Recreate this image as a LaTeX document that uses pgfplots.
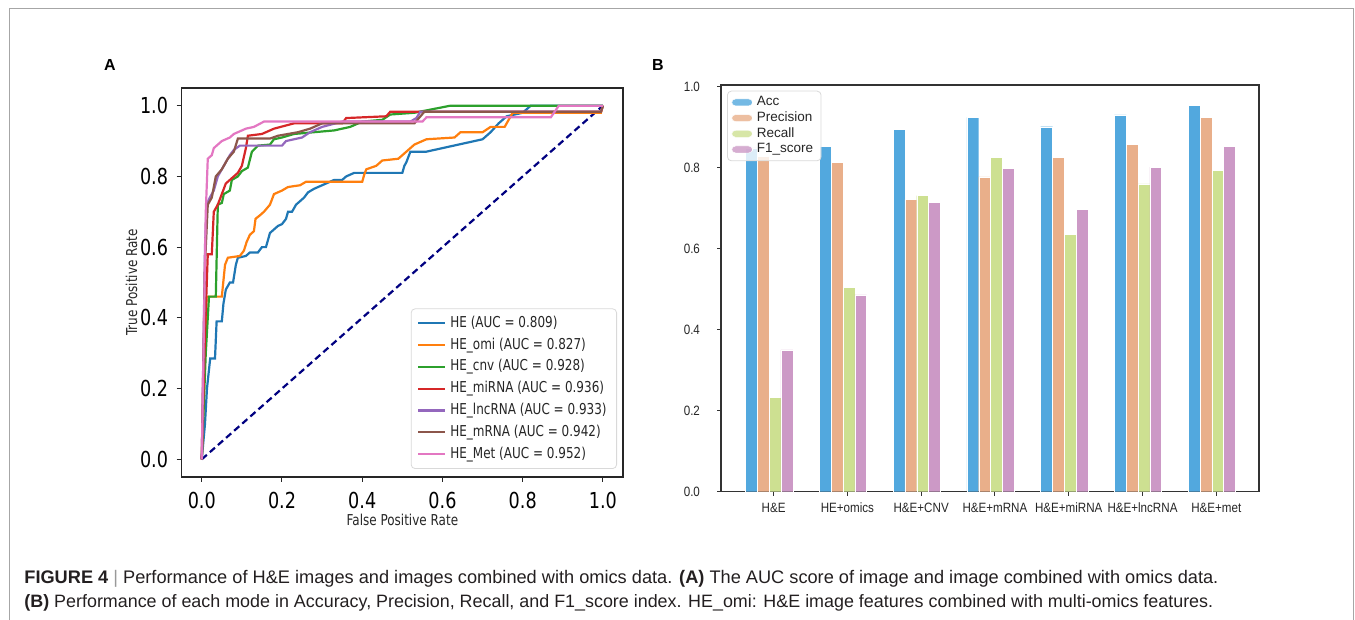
\documentclass[border=0pt]{standalone}
\usepackage{pgfplots}
\pgfplotsset{compat=1.18}
\usepackage{fontspec}
\setmainfont{Liberation Sans}
\newfontfamily\dejavu[FakeStretch=0.8]{DejaVu Sans}
\newfontfamily\arialn[FakeStretch=0.86]{Liberation Sans}

\definecolor{c0}{HTML}{1F77B4}
\definecolor{c1}{HTML}{FF7F0E}
\definecolor{c2}{HTML}{2CA02C}
\definecolor{c3}{HTML}{D62728}
\definecolor{c4}{HTML}{9467BD}
\definecolor{c5}{HTML}{8C564B}
\definecolor{c6}{HTML}{E377C2}
\definecolor{navy}{RGB}{0,0,128}
\definecolor{acccol}{RGB}{82,168,222}
\definecolor{preccol}{RGB}{233,175,138}
\definecolor{reccol}{RGB}{205,224,145}
\definecolor{f1col}{RGB}{204,153,198}
\definecolor{captext}{HTML}{231F20}

\begin{document}
\begin{tikzpicture}
\useasboundingbox (0,0) rectangle (677.5pt,-310pt);
\draw[black!35, line width=0.5pt] (4.65pt,-310pt) -- (4.65pt,-4.15pt) -- (676.75pt,-4.15pt) -- (676.75pt,-310pt);

\node[font=\bfseries\fontsize{8}{9.6}\selectfont] at (55pt,-32.5pt) {A};
\node[font=\bfseries\fontsize{8}{9.6}\selectfont] at (329pt,-32.5pt) {B};

% panel A: ROC curves
\begin{axis}[
    at={(90.85pt,-44pt)}, anchor=north west,
    width=220.65pt, height=194.5pt, scale only axis,
    xmin=-0.05, xmax=1.05, ymin=-0.05, ymax=1.05,
    xtick={0,0.2,0.4,0.6,0.8,1.0},
    ytick={0,0.2,0.4,0.6,0.8,1.0},
    tick pos=left, tick align=outside, major tick length=2.5pt,
    axis line style={black!85, line width=0.6pt},
    tick style={black!85, line width=0.5pt},
    ticklabel style={font=\dejavu\fontsize{11}{13}\selectfont},
    xticklabel style={yshift=-1.5pt},
    yticklabel style={xshift=-0.8pt},
    /pgf/number format/.cd, fixed, fixed zerofill, precision=1, assume math mode=true,
    /pgfplots/.cd,
    xlabel={False Positive Rate}, ylabel={True Positive Rate},
    label style={font=\dejavu\fontsize{7.5}{9}\selectfont, text=black!85},
    x label style={at={(axis description cs:0.5,-0.1105)}, anchor=center},
    y label style={at={(axis description cs:-0.1134,0.5)}, anchor=center},
    legend image code/.code={\draw[#1] (0pt,0pt) -- (13.5pt,0pt);},
    legend cell align=left,
    legend style={at={(1,0)}, anchor=south east, xshift=-3pt, yshift=4pt,
        font=\dejavu\fontsize{7.5}{9}\selectfont, text=black!85,
        draw=black!15, rounded corners=2pt, fill=white, fill opacity=0.8, text opacity=1,
        nodes={inner ysep=0.5pt, text height=5.8pt, text depth=1.7pt},
        row sep=2.4pt, inner xsep=3pt, inner ysep=3pt},
    every axis plot/.append style={line width=1.1pt},
]
\addplot[navy, dash pattern=on 3.4pt off 2pt, line width=1.1pt, forget plot] coordinates {(0,0) (1,1)};
\addplot[c0, sharp plot] coordinates {
(0,0) (0.008,0.10) (0.013,0.20) (0.021,0.285) (0.033,0.285) (0.037,0.39) (0.05,0.39)
(0.054,0.44) (0.06,0.48) (0.07,0.50) (0.078,0.50) (0.085,0.55) (0.09,0.57) (0.11,0.575)
(0.12,0.585) (0.14,0.585) (0.15,0.60) (0.16,0.60) (0.165,0.62) (0.17,0.64) (0.18,0.65)
(0.19,0.66) (0.20,0.665) (0.21,0.68) (0.215,0.70) (0.225,0.70) (0.235,0.72) (0.245,0.73)
(0.255,0.74) (0.265,0.755) (0.28,0.765) (0.29,0.77) (0.31,0.78) (0.33,0.79) (0.35,0.79)
(0.36,0.80) (0.38,0.81) (0.50,0.81) (0.505,0.83) (0.51,0.84) (0.52,0.87) (0.56,0.87)
(0.60,0.88) (0.64,0.89) (0.70,0.905) (0.72,0.925) (0.74,0.95) (0.76,0.97) (0.80,0.98)
(0.82,1.0) (1.0,1.0)};
\addlegendentry{HE (AUC = 0.809)}
\addplot[c1, sharp plot] coordinates {
(0,0) (0.005,0.2) (0.012,0.46) (0.05,0.46) (0.058,0.55) (0.065,0.57) (0.095,0.575)
(0.105,0.59) (0.112,0.615) (0.12,0.635) (0.13,0.645) (0.134,0.68) (0.145,0.69) (0.155,0.70)
(0.17,0.72) (0.18,0.75) (0.20,0.76) (0.215,0.77) (0.245,0.775) (0.26,0.785) (0.40,0.785)
(0.405,0.805) (0.41,0.82) (0.435,0.83) (0.45,0.845) (0.49,0.85) (0.52,0.88) (0.53,0.89)
(0.56,0.905) (0.63,0.91) (0.645,0.925) (0.70,0.925) (0.72,0.94) (0.755,0.94) (0.775,0.98)
(0.995,0.98) (1.0,1.0)};
\addlegendentry{HE\_omi (AUC = 0.827)}
\addplot[c2, sharp plot] coordinates {
(0,0) (0.01,0.30) (0.018,0.46) (0.035,0.46) (0.04,0.72) (0.05,0.725) (0.055,0.75)
(0.07,0.76) (0.075,0.79) (0.09,0.80) (0.10,0.815) (0.115,0.825) (0.125,0.87) (0.14,0.887)
(0.17,0.89) (0.18,0.905) (0.20,0.91) (0.23,0.92) (0.33,0.93) (0.37,0.94) (0.40,0.955)
(0.45,0.96) (0.47,0.975) (0.53,0.98) (0.62,1.0) (1.0,1.0)};
\addlegendentry{HE\_cnv (AUC = 0.928)}
\addplot[c3, sharp plot] coordinates {
(0,0) (0.008,0.35) (0.015,0.58) (0.025,0.58) (0.03,0.70) (0.04,0.72) (0.05,0.75)
(0.06,0.78) (0.07,0.79) (0.08,0.80) (0.09,0.81) (0.10,0.83) (0.11,0.88) (0.115,0.915)
(0.15,0.92) (0.18,0.935) (0.23,0.95) (0.35,0.95) (0.36,0.965) (0.46,0.97) (0.47,0.983)
(0.995,0.983) (1.0,1.0)};
\addlegendentry{HE\_miRNA (AUC = 0.936)}
\addplot[c4, sharp plot] coordinates {
(0,0) (0.008,0.60) (0.012,0.72) (0.02,0.74) (0.03,0.76) (0.04,0.80) (0.05,0.82)
(0.06,0.84) (0.07,0.86) (0.08,0.875) (0.095,0.887) (0.20,0.887) (0.21,0.90) (0.25,0.91)
(0.27,0.925) (0.30,0.94) (0.35,0.955) (0.52,0.955) (0.535,0.965) (0.545,0.983)
(0.995,0.983) (1.0,1.0)};
\addlegendentry{HE\_lncRNA (AUC = 0.933)}
\addplot[c5, sharp plot] coordinates {
(0,0) (0.008,0.55) (0.015,0.72) (0.025,0.74) (0.035,0.80) (0.05,0.82) (0.065,0.85)
(0.08,0.87) (0.09,0.907) (0.17,0.907) (0.19,0.915) (0.24,0.925) (0.27,0.935) (0.30,0.95)
(0.53,0.95) (0.555,0.983) (0.995,0.983) (1.0,1.0)};
\addlegendentry{HE\_mRNA (AUC = 0.942)}
\addplot[c6, sharp plot] coordinates {
(0,0) (0.01,0.70) (0.015,0.85) (0.025,0.86) (0.03,0.88) (0.04,0.89) (0.05,0.90)
(0.07,0.91) (0.08,0.92) (0.11,0.935) (0.13,0.94) (0.155,0.955) (0.55,0.955) (0.56,0.967)
(0.87,0.967) (0.89,1.0) (1.0,1.0)};
\addlegendentry{HE\_Met (AUC = 0.952)}
\end{axis}

% panel B: bar chart
\begin{axis}[
    at={(360.5pt,-42.5pt)}, anchor=north west,
    width=269pt, height=203.35pt, scale only axis,
    xmin=-0.713, xmax=6.579, ymin=0, ymax=1.004,
    xtick={0,1,2,3,4,5,6},
    xticklabels={H\&E,HE+omics,H\&E+CNV,H\&E+mRNA,H\&E+miRNA,H\&E+lncRNA,H\&E+met},
    ytick={0,0.2,0.4,0.6,0.8,1.0},
    tick pos=left, tick align=outside, major tick length=2pt,
    axis line style={black!80, line width=0.6pt},
    tick style={black!80, line width=0.5pt},
    ticklabel style={font=\arialn\fontsize{6.75}{8}\selectfont, text=black!85},
    xticklabel style={yshift=0pt},
    yticklabel style={xshift=-5pt},
    /pgf/number format/.cd, fixed, fixed zerofill, precision=1, assume math mode=true,
    /pgfplots/.cd,
    legend image code/.code={\fill[#1] (0pt,-1.75pt) rectangle (10.5pt,1.75pt);},
    legend cell align=left,
    legend style={at={(0,1)}, anchor=north west, xshift=3pt, yshift=-2.85pt,
        font=\fontsize{6.75}{8}\selectfont, text=black!85,
        draw=black!15, rounded corners=2pt, fill=white, fill opacity=0.8, text opacity=1,
        nodes={inner ysep=0.4pt, text height=5pt, text depth=1.5pt},
        row sep=0.55pt, inner xsep=2pt, inner ysep=2pt},
]
\addplot[ybar, bar width=0.16, bar shift=-0.30, fill=acccol, draw=white, line width=0.2pt] coordinates {
(0,0.849) (1,0.852) (2,0.895) (3,0.924) (4,0.901) (5,0.930) (6,0.954)};
\addlegendentry{Acc}
\addplot[ybar, bar width=0.16, bar shift=-0.14, fill=preccol, draw=white, line width=0.2pt] coordinates {
(0,0.827) (1,0.813) (2,0.722) (3,0.777) (4,0.825) (5,0.858) (6,0.924)};
\addlegendentry{Precision}
\addplot[ybar, bar width=0.16, bar shift=0.02, fill=reccol, draw=white, line width=0.2pt] coordinates {
(0,0.233) (1,0.504) (2,0.731) (3,0.826) (4,0.636) (5,0.760) (6,0.793)};
\addlegendentry{Recall}
\addplot[ybar, bar width=0.16, bar shift=0.18, fill=f1col, draw=white, line width=0.2pt] coordinates {
(0,0.350) (1,0.486) (2,0.714) (3,0.798) (4,0.697) (5,0.801) (6,0.853)};
\addlegendentry{F1\_score}
\end{axis}

% caption
\node[anchor=base west, inner sep=0pt, font=\fontsize{9.1}{11}\selectfont, text=captext] at (12pt,-291.5pt)
  {\textbf{FIGURE 4} {\color{black!40}|} Performance of H\&E images and images combined with omics data. \textbf{(A)} The AUC score of image and image combined with omics data.};
\node[anchor=base west, inner sep=0pt, font=\fontsize{8.95}{11}\selectfont, text=captext] at (12pt,-303.5pt)
  {\textbf{(B)} Performance of each mode in Accuracy, Precision, Recall, and F1\_score index. HE\_omi: H\&E image features combined with multi-omics features.};
\end{tikzpicture}
\end{document}
